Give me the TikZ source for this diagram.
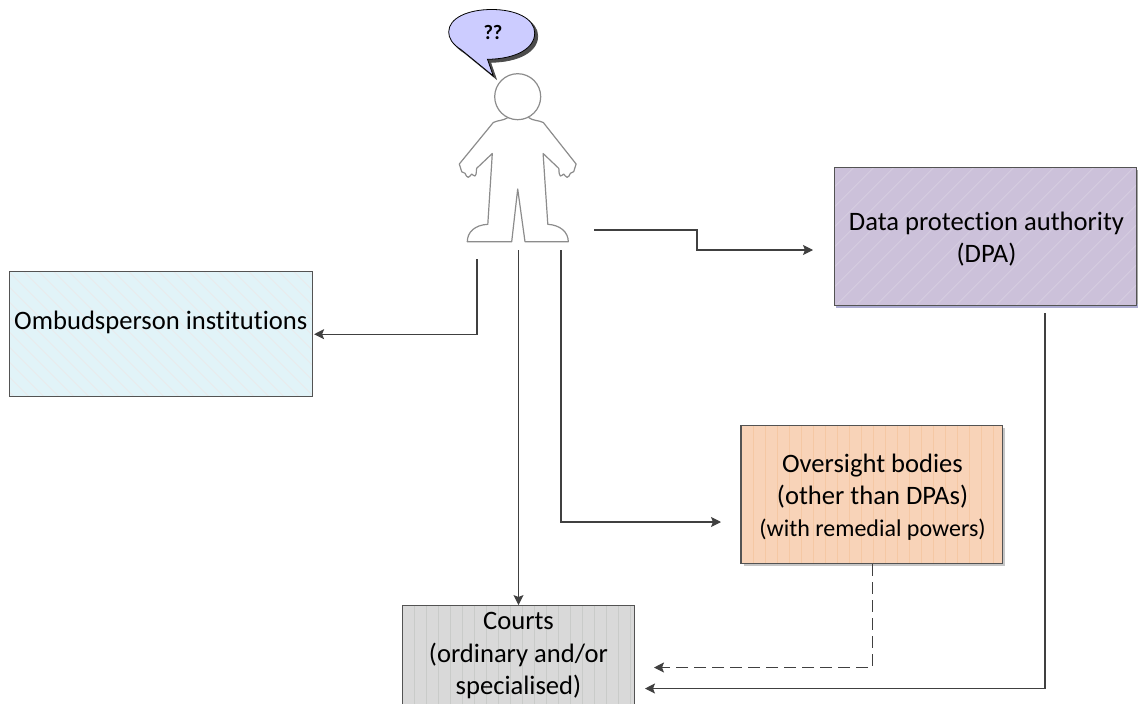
\documentclass[tikz,border=0pt]{standalone}
\usepackage{fontspec}
\setmainfont[Ligatures=NoCommon]{Carlito}
\usetikzlibrary{arrows.meta,calc}
\definecolor{linec}{HTML}{404040}
\definecolor{ombf}{HTML}{E1F3F8}
\definecolor{ombh}{HTML}{EBE9EA}
\definecolor{dpaf}{HTML}{CCC1DA}
\definecolor{dpah}{HTML}{D8CFE2}
\definecolor{ovf}{HTML}{F8D3B8}
\definecolor{ovh}{HTML}{F5C8A4}
\definecolor{crf}{HTML}{D9D9D9}
\definecolor{crh}{HTML}{C9CBC9}
\definecolor{bub}{HTML}{CCCCFF}
\definecolor{persc}{HTML}{8C8C8C}
\tikzset{
 x=1pt,y=-1pt,
 boxn/.style={draw=linec!90,line width=1.1pt,inner sep=0pt},
 boxt/.style={align=center,inner sep=0pt,text=black,font=\fontsize{26.6}{32.5}\selectfont},
 conn/.style={draw=linec,line width=1.1pt,-{Stealth[length=10pt,width=10pt,inset=2pt]}},
 personline/.style={draw=persc,line width=1.2pt,fill=white,line join=round},
 vhatch/.style={path picture={
   \foreach \k in {0,...,30}{
     \draw[#1,line width=0.8pt] ($(path picture bounding box.north west)+(12*\k,0)$) -- ($(path picture bounding box.south west)+(12*\k,0)$);}}},
 dhatchA/.style={path picture={
   \foreach \k in {-12,...,34}{
     \draw[#1,line width=0.7pt] ($(path picture bounding box.north west)+(15*\k,0)$) -- ++(150,150);}}},
 dhatchB/.style={path picture={
   \foreach \k in {0,...,40}{
     \draw[#1,line width=0.7pt] ($(path picture bounding box.north west)+(20*\k,0)$) -- ++(-150,150);}}},
}
\begin{document}
\begin{tikzpicture}
\useasboundingbox (0,0) rectangle (1138,704);
% shadows
\fill[gray!70] (836,170) rectangle (1138,307.5);
\fill[blue!30!gray!50] (836,304) rectangle (1138,307.5);
\fill[gray!45] (744,428) rectangle (1005,566);
% boxes
\node[boxn,fill=ombf,dhatchA=ombh,minimum width=303.5pt,minimum height=125pt] (omb) at (160.8,334.2) {};
\node[boxt] (ombt) at (160.8,322) {Ombudsperson institutions};
\node[boxn,fill=dpaf,dhatchB=dpah,minimum width=302.7pt,minimum height=137.7pt] (dpa) at (985.4,236.2) {};
\node[boxt] (dpat) at (986.5,239) {Data protection authority\\(DPA)};
\node[boxn,fill=ovf,vhatch=ovh,minimum width=261.7pt,minimum height=137.6pt] (ov) at (871.8,494.5) {};
\node[boxt] (ovt) at (872.5,497) {Oversight bodies\\(other than DPAs)\\[-0.5pt]{\fontsize{24}{30}\selectfont (with remedial powers)}};
\path[fill=crf,draw=linec!90,line width=1.1pt,vhatch=crh] (402.7,704.5) -- (402.7,605.3) -- (634.3,605.3) -- (634.3,704.5);
\node[inner sep=0pt,minimum width=231.6pt,minimum height=98.7pt] (cr) at (518.5,654.6) {};
\node[boxt] (crt) at (518.5,656) {Courts\\(ordinary and/or\\specialised)};
% person
\draw[personline] (508.3,117.3) .. controls (503,121) and (498,120) .. (493.3,122.5)
 -- (459.3,164) -- (461.7,171.7) -- (465,173.3)
 .. controls (466,176) and (467,177) .. (468.3,177.3) .. controls (470,177) and (470.5,175) .. (471.7,174)
 .. controls (473,175) and (474,176) .. (475,176) .. controls (477,174) and (476,170) .. (476.7,168.3)
 -- (492.3,153.5)
 -- (487.8,224.3) .. controls (475,225) and (467.3,232) .. (467.3,241.7)
 -- (511.7,241.7) -- (517.7,189) -- (525,241.7) -- (568.3,241.7)
 .. controls (568.3,232) and (560,225) .. (547.8,224.3)
 -- (543.1,153.5) -- (558.7,168.3) .. controls (559.4,170) and (558.4,174) .. (560.4,176)
 .. controls (561.4,176) and (562.4,175) .. (563.7,174) .. controls (564.9,175) and (565.4,177) .. (567.1,177.3)
 .. controls (568.4,177) and (569.4,176) .. (570.4,173.3) -- (573.7,171.7) -- (576.1,164)
 -- (543.3,122.5) .. controls (538,120) and (533,121) .. (528.3,117.3);
\node[circle,draw=persc,line width=1.2pt,fill=white,minimum size=46pt,inner sep=0pt] (head) at (517.7,96.7) {};
% bubble
\foreach \dx/\fc/\dc in {3/black!70/black!70,0/bub/black}{
\draw[fill=\fc,draw=\dc,line width=0.8pt,shift={(\dx,\dx)}]
 (461.5,50) .. controls (452,44) and (448.7,38) .. (448.7,32)
 .. controls (448.7,18) and (468,9.5) .. (491.7,9.5)
 .. controls (515,9.5) and (534.7,18) .. (534.7,33)
 .. controls (534.7,49) and (515,59) .. (487.5,59.3)
 -- (493.3,76) -- cycle;}
\node[font=\bfseries\fontsize{20.5}{24}\selectfont] (q) at (493,32.5) {??};
% connector ends
\coordinate (a1) at (594,230);
\coordinate (a2) at (813,250);
\coordinate (b1) at (477,259);
\coordinate (c1) at (518.5,250);
\coordinate (d1) at (561,250);
\coordinate (d2) at (721,522);
\coordinate (e1) at (872.5,564);
\coordinate (e2) at (654,667.5);
\coordinate (f1) at (1045,313);
\coordinate (f2) at (645,688.5);
\draw[conn] (a1) -- (697,230) -- (697,250) -- (a2);
\draw[conn] (b1) |- ($(omb.east)+(1,0)$);
\draw[conn] (c1) -- (cr.north);
\draw[conn] (d1) |- (d2);
\draw[conn,dash pattern=on 12pt off 6pt] (e1) |- (e2);
\draw[conn] (f1) |- (f2);
\end{tikzpicture}
\end{document}
